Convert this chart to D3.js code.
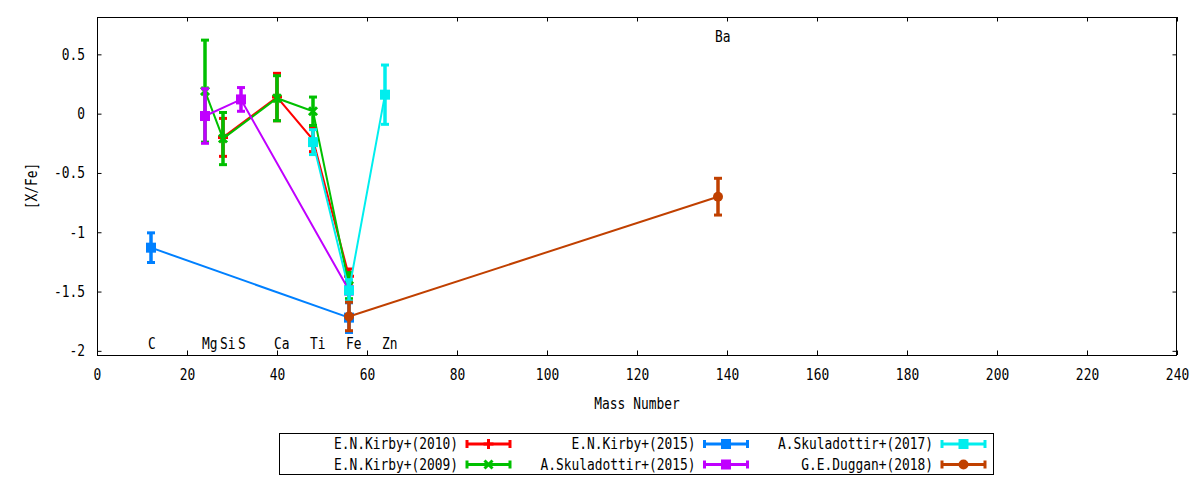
<!DOCTYPE html>
<html><head><meta charset="utf-8">
<script src="https://cdn.jsdelivr.net/npm/d3@7"></script>
<style>
body{margin:0;background:#fff}
text{font-family:"DejaVu Sans Mono",monospace;font-size:15px;fill:#000}
</style>
</head><body>
<svg id="chart" width="1200" height="480"></svg>
<script>
// ---- data ----
const elementNames = ["C","Mg","Si","S","Ca","Ti","Fe","Zn","Ba"];
const elementMass  = [12, 24, 28, 32, 40, 48, 56, 64, 138];
const elementLabelY = [-1.94,-1.94,-1.94,-1.94,-1.94,-1.94,-1.94,-1.94,0.65];

const xTicks = [0,20,40,60,80,100,120,140,160,180,200,220,240];
const yTicks = [-2,-1.5,-1,-0.5,0,0.5];

const seriesNames  = ["E.N.Kirby+(2010)","E.N.Kirby+(2009)","E.N.Kirby+(2015)",
                      "A.Skuladottir+(2015)","A.Skuladottir+(2017)","G.E.Duggan+(2018)"];
const seriesColors = ["#ff0000","#00c000","#0080ff","#c000ff","#00eeee","#c04000"];
const seriesMarker = ["plus","cross","square","square","square","circle"];

const kirby2010El  = ["Si","Ca","Ti","Fe"];
const kirby2010Val = [-0.20, 0.14, -0.22, -1.37];
const kirby2010Err = [0.16, 0.20, 0.10, 0.06];

const kirby2009El  = ["Mg","Si","Ca","Ti","Fe"];
const kirby2009Val = [0.19, -0.21, 0.13, 0.02, -1.45];
const kirby2009Err = [0.43, 0.22, 0.19, 0.12, 0.11];

const kirby2015El  = ["C","Fe"];
const kirby2015Val = [-1.13, -1.72];
const kirby2015Err = [0.125, 0.125];

const skul2015El  = ["Mg","S","Fe"];
const skul2015Val = [-0.02, 0.12, -1.49];
const skul2015Err = [0.23, 0.10, 0.03];

const skul2017El  = ["Ti","Fe","Zn"];
const skul2017Val = [-0.24, -1.49, 0.16];
const skul2017Err = [0.105, 0.09, 0.25];

const duggan2018El  = ["Fe","Ba"];
const duggan2018Val = [-1.71, -0.70];
const duggan2018Err = [0.12, 0.155];

const seriesEl  = [kirby2010El, kirby2009El, kirby2015El, skul2015El, skul2017El, duggan2018El];
const seriesVal = [kirby2010Val, kirby2009Val, kirby2015Val, skul2015Val, skul2017Val, duggan2018Val];
const seriesErr = [kirby2010Err, kirby2009Err, kirby2015Err, skul2015Err, skul2017Err, duggan2018Err];

// ---- layout ----
const svg = d3.select("#chart");
const L = 97, R = 1177, T = 17, B = 355;
const SX = 0.86; // horizontal condensing of the narrow mono font
const x = d3.scaleLinear().domain([0,240]).range([L,R]);
const y = d3.scaleLinear().domain([-2.035,0.815]).range([B,T]);
const massOf = el => elementMass[elementNames.indexOf(el)];

function condense(sel){
  sel.each(function(){
    const t = d3.select(this);
    const tx = +t.attr("x") || 0, ty = +t.attr("y") || 0;
    t.attr("x",0).attr("y",0).attr("transform",`translate(${tx},${ty}) scale(${SX},1)`);
  });
}

// axes (inward ticks, mirrored)
const tk = 4.5;
const gx = svg.append("g").attr("transform",`translate(0,${B})`)
  .call(d3.axisBottom(x).tickValues(xTicks).tickSizeInner(-tk).tickSizeOuter(0).tickPadding(14).tickFormat(d=>String(d)));
const gxt = svg.append("g").attr("transform",`translate(0,${T})`)
  .call(d3.axisTop(x).tickValues(xTicks).tickSizeInner(-tk).tickSizeOuter(0).tickFormat(""));
const gy = svg.append("g").attr("transform",`translate(${L},0)`)
  .call(d3.axisLeft(y).tickValues(yTicks).tickSizeInner(-tk).tickSizeOuter(0).tickPadding(12).tickFormat(d=>String(d)));
const gyr = svg.append("g").attr("transform",`translate(${R},0)`)
  .call(d3.axisRight(y).tickValues(yTicks).tickSizeInner(-tk).tickSizeOuter(0).tickFormat(""));
[gx,gxt,gy,gyr].forEach(g=>{
  g.select(".domain").remove();
  g.selectAll("line").attr("stroke","#000").attr("stroke-width",1);
  g.selectAll("text").attr("font-family","DejaVu Sans Mono").attr("font-size",15).attr("fill","#000");
  condense(g.selectAll("text"));
});
svg.append("rect").attr("x",L+0.5).attr("y",T+0.5).attr("width",R-L-1).attr("height",B-T)
  .attr("fill","none").attr("stroke","#000").attr("stroke-width",1);

// axis titles
condense(svg.append("text").attr("x",(L+R)/2).attr("y",404).attr("text-anchor","middle")
  .attr("dominant-baseline","central").text("Mass Number"));
svg.append("text").attr("transform",`translate(32,${(T+B)/2}) rotate(-90) scale(${SX},1)`)
  .attr("text-anchor","middle").attr("dominant-baseline","central").text("[X/Fe]");

// element labels
condense(svg.append("g").selectAll("text").data(elementNames).join("text")
  .attr("x",(d,i)=>x(elementMass[i])-3).attr("y",(d,i)=>y(elementLabelY[i]))
  .attr("dominant-baseline","central").attr("text-anchor","start").text(d=>d));

// markers
function drawMarker(g, type, color, cx, cy){
  if(type==="plus"){
    g.append("path").attr("d",`M${cx-5},${cy}H${cx+5}M${cx},${cy-5}V${cy+5}`)
      .attr("stroke",color).attr("stroke-width",3).attr("fill","none");
  } else if(type==="cross"){
    g.append("path").attr("d",`M${cx-4},${cy-4}L${cx+4},${cy+4}M${cx-4},${cy+4}L${cx+4},${cy-4}`)
      .attr("stroke",color).attr("stroke-width",3).attr("fill","none");
  } else if(type==="square"){
    g.append("rect").attr("x",cx-5).attr("y",cy-5).attr("width",10).attr("height",10).attr("fill",color);
  } else {
    g.append("circle").attr("cx",cx).attr("cy",cy).attr("r",5).attr("fill",color);
  }
}

const capW = 8;
seriesNames.forEach((name,si)=>{
  const color = seriesColors[si];
  const pts = seriesEl[si].map((el,i)=>({m:massOf(el), v:seriesVal[si][i], e:seriesErr[si][i]}));
  const g = svg.append("g");
  g.append("path").attr("d", d3.line().x(d=>x(d.m)).y(d=>y(d.v))(pts))
    .attr("fill","none").attr("stroke",color).attr("stroke-width",2);
  pts.forEach(p=>{
    const px = x(p.m), y1 = y(p.v+p.e), y2 = y(p.v-p.e);
    g.append("line").attr("x1",px).attr("x2",px).attr("y1",y1).attr("y2",y2)
      .attr("stroke",color).attr("stroke-width",3.5);
    [y1,y2].forEach(yy=>g.append("line").attr("x1",px-capW/2).attr("x2",px+capW/2)
      .attr("y1",yy).attr("y2",yy).attr("stroke",color).attr("stroke-width",3));
    drawMarker(g, seriesMarker[si], color, px, y(p.v));
  });
});

// legend
svg.append("rect").attr("x",279.5).attr("y",433.5).attr("width",714).attr("height",41)
  .attr("fill","#fff").attr("stroke","#000").attr("stroke-width",1);
seriesNames.forEach((name,si)=>{
  const col = Math.floor(si/2), row = si%2;
  const tx = 458 + col*237.5, ty = 444 + row*20.5;
  const color = seriesColors[si];
  const g = svg.append("g");
  condense(g.append("text").attr("x",tx).attr("y",ty).attr("text-anchor","end")
    .attr("dominant-baseline","central").text(name));
  const sx1 = tx+9, sx2 = tx+52;
  g.append("line").attr("x1",sx1).attr("x2",sx2).attr("y1",ty).attr("y2",ty)
    .attr("stroke",color).attr("stroke-width",3);
  [sx1,sx2].forEach(sx=>g.append("line").attr("x1",sx).attr("x2",sx).attr("y1",ty-4).attr("y2",ty+4)
    .attr("stroke",color).attr("stroke-width",3));
  drawMarker(g, seriesMarker[si], color, (sx1+sx2)/2, ty);
});
</script>
</body></html>
